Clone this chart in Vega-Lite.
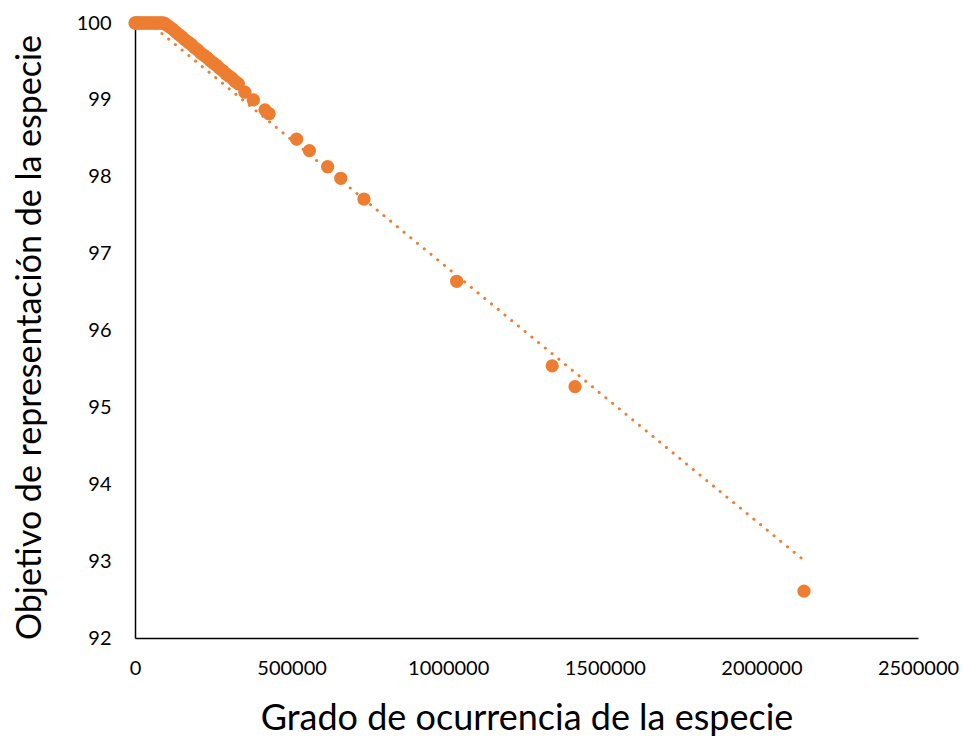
{
  "$schema": "https://vega.github.io/schema/vega-lite/v6.json",
  "width": 783,
  "height": 615,
  "autosize": {"type": "none"},
  "padding": {"left": 135, "top": 23, "right": 46, "bottom": 99},
  "background": "white",
  "config": {"view": {"stroke": null}, "font": "Lato"},
  "datasets": {
    "pts": [
      {"ocurrencia": 0, "objetivo": 100},
      {"ocurrencia": 3000, "objetivo": 100},
      {"ocurrencia": 8000, "objetivo": 100},
      {"ocurrencia": 14000, "objetivo": 100},
      {"ocurrencia": 20000, "objetivo": 100},
      {"ocurrencia": 27000, "objetivo": 100},
      {"ocurrencia": 34000, "objetivo": 100},
      {"ocurrencia": 41000, "objetivo": 100},
      {"ocurrencia": 48000, "objetivo": 100},
      {"ocurrencia": 55000, "objetivo": 100},
      {"ocurrencia": 62000, "objetivo": 100},
      {"ocurrencia": 69000, "objetivo": 100},
      {"ocurrencia": 76000, "objetivo": 100},
      {"ocurrencia": 83000, "objetivo": 100},
      {"ocurrencia": 90000, "objetivo": 100},
      {"ocurrencia": 96000, "objetivo": 99.99},
      {"ocurrencia": 103000, "objetivo": 99.97},
      {"ocurrencia": 110000, "objetivo": 99.95},
      {"ocurrencia": 120000, "objetivo": 99.92},
      {"ocurrencia": 130000, "objetivo": 99.885},
      {"ocurrencia": 140000, "objetivo": 99.85},
      {"ocurrencia": 150000, "objetivo": 99.82},
      {"ocurrencia": 160000, "objetivo": 99.78},
      {"ocurrencia": 170000, "objetivo": 99.75},
      {"ocurrencia": 180000, "objetivo": 99.72},
      {"ocurrencia": 190000, "objetivo": 99.68},
      {"ocurrencia": 200000, "objetivo": 99.65},
      {"ocurrencia": 210000, "objetivo": 99.61},
      {"ocurrencia": 220000, "objetivo": 99.58},
      {"ocurrencia": 230000, "objetivo": 99.55},
      {"ocurrencia": 240000, "objetivo": 99.51},
      {"ocurrencia": 250000, "objetivo": 99.48},
      {"ocurrencia": 260000, "objetivo": 99.45},
      {"ocurrencia": 270000, "objetivo": 99.41},
      {"ocurrencia": 280000, "objetivo": 99.38},
      {"ocurrencia": 290000, "objetivo": 99.34},
      {"ocurrencia": 300000, "objetivo": 99.31},
      {"ocurrencia": 310000, "objetivo": 99.28},
      {"ocurrencia": 320000, "objetivo": 99.24},
      {"ocurrencia": 330000, "objetivo": 99.21},
      {"ocurrencia": 351000, "objetivo": 99.1},
      {"ocurrencia": 378000, "objetivo": 99.0},
      {"ocurrencia": 415000, "objetivo": 98.87},
      {"ocurrencia": 428000, "objetivo": 98.82},
      {"ocurrencia": 516000, "objetivo": 98.49},
      {"ocurrencia": 557000, "objetivo": 98.34},
      {"ocurrencia": 615000, "objetivo": 98.13},
      {"ocurrencia": 657000, "objetivo": 97.98},
      {"ocurrencia": 731000, "objetivo": 97.71},
      {"ocurrencia": 1027000, "objetivo": 96.64},
      {"ocurrencia": 1332000, "objetivo": 95.54},
      {"ocurrencia": 1405000, "objetivo": 95.27},
      {"ocurrencia": 2136000, "objetivo": 92.61}
    ],
    "trend": [
      {"ocurrencia": 0, "objetivo": 100.15},
      {"ocurrencia": 2136000, "objetivo": 93.01}
    ]
  },
  "layer": [
    {
      "data": {"name": "trend"},
      "mark": {"type": "line", "color": "#ED7D31", "strokeWidth": 3, "strokeCap": "round", "strokeDash": [0.1, 8.6], "clip": true},
      "encoding": {
        "x": {"field": "ocurrencia", "type": "quantitative"},
        "y": {"field": "objetivo", "type": "quantitative"}
      }
    },
    {
      "data": {"name": "pts"},
      "mark": {"type": "circle", "color": "#ED7D31", "opacity": 1, "size": 177, "clip": false},
      "encoding": {
        "x": {
          "field": "ocurrencia", "type": "quantitative",
          "scale": {"domain": [0, 2500000], "nice": false, "zero": false},
          "axis": {
            "title": "Grado de ocurrencia de la especie",
            "values": [0, 500000, 1000000, 1500000, 2000000, 2500000],
            "format": "d",
            "grid": false, "ticks": false,
            "domainColor": "#000000", "domainWidth": 1.5,
            "labelFont": "Lato", "labelFontSize": 20, "labelColor": "#000000", "labelPadding": 20,
            "labelFlush": false,
            "titleFont": "Lato", "titleFontSize": 36, "titleFontWeight": "normal", "titleColor": "#000000",
            "titleBaseline": "middle", "titleY": 80
          }
        },
        "y": {
          "field": "objetivo", "type": "quantitative",
          "scale": {"domain": [92, 100], "nice": false, "zero": false},
          "axis": {
            "title": "Objetivo de representación de la especie",
            "values": [92, 93, 94, 95, 96, 97, 98, 99, 100],
            "format": "d",
            "grid": false, "ticks": false,
            "domainColor": "#000000", "domainWidth": 1.5,
            "labelFont": "Lato", "labelFontSize": 20, "labelColor": "#000000", "labelPadding": 24,
            "titleFont": "Lato", "titleFontSize": 34, "titleFontWeight": "normal", "titleColor": "#000000",
            "titleAngle": -90, "titleBaseline": "middle", "titleAlign": "center",
            "titleX": -105, "titleY": 314
          }
        }
      }
    }
  ]
}
